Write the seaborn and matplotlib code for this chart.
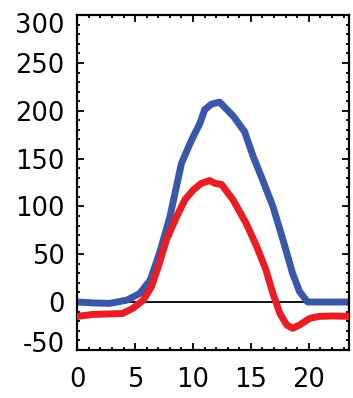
import matplotlib
matplotlib.use("Agg")
import matplotlib.pyplot as plt
import matplotlib.transforms as mtransforms
from matplotlib.ticker import MultipleLocator
import seaborn as sns
import pandas as pd

# Data
blue_x = [0, 1.5, 2.8, 4.3, 5.4, 6.3, 7.1, 8.0, 8.57, 9.0, 9.86, 10.6, 11.0, 11.6, 12.3,
          13.5, 14.46, 15.2, 16.0, 16.9, 17.77, 18.6, 19.2, 19.9, 21.5, 23.5]
blue_y = [0, -1, -1.4, 2, 9, 23, 51, 89, 121, 145, 169, 187, 201, 207, 209,
          194, 178, 152, 128, 100, 65, 30, 11, 0, 0, 0]
red_x = [0, 1.35, 2.6, 3.9, 4.8, 5.7, 6.4, 7.0, 7.7, 8.57, 9.3, 10.0, 10.7, 11.44, 11.9,
         12.45, 13.45, 14.6, 15.5, 16.3, 16.9, 17.5, 18.1, 18.6, 19.2, 20.1, 20.9, 22.1, 23.5]
red_y = [-15, -13, -12.5, -12, -6.6, 2, 16, 37, 65, 89, 107, 117, 124, 127, 124,
         123, 107, 82, 58, 33.5, 9, -12, -24, -27.5, -24, -17, -15, -14.6, -15]
xticks = [0, 5, 10, 15, 20]
yticks = [-50, 0, 50, 100, 150, 200, 250, 300]

sns.set_style("white")
plt.rcParams['font.family'] = ['DejaVu Sans']
plt.rcParams['axes.unicode_minus'] = False

fig = plt.figure(figsize=(3.53, 3.98), dpi=100)
ax = fig.add_axes([0.219, 0.121, 0.7705, 0.841])

ax.axhline(0, color="black", lw=1.3, zorder=1)
sns.lineplot(data=pd.DataFrame({"x": blue_x, "y": blue_y}), x="x", y="y", ax=ax,
             color="#3a58a8", lw=5, zorder=2)
sns.lineplot(data=pd.DataFrame({"x": red_x, "y": red_y}), x="x", y="y", ax=ax,
             color="#ec1c24", lw=5, zorder=3)

ax.set_xlim(0, 23.5)
ax.set_ylim(-50, 300)
ax.set_xticks(xticks)
ax.set_yticks(yticks)
ax.xaxis.set_minor_locator(MultipleLocator(1))
ax.yaxis.set_minor_locator(MultipleLocator(10))
ax.set_xlabel("")
ax.set_ylabel("")
for s in ax.spines.values():
    s.set_visible(True)
    s.set_color("black")
    s.set_linewidth(1.6)
ax.tick_params(which="both", direction="in", top=True, right=True, bottom=True, left=True,
               color="black", width=1.3, labelcolor="black")
ax.tick_params(which="major", length=5)
ax.tick_params(which="minor", length=2.5)
ax.tick_params(axis="x", which="major", labelsize=18.5, pad=12)
ax.tick_params(axis="y", which="major", labelsize=18.5, pad=9)

fig.canvas.draw()
labels = ax.get_yticklabels()
labels[0].set_transform(labels[0].get_transform() +
                        mtransforms.ScaledTranslation(0, 6 / 72, fig.dpi_scale_trans))
labels[-1].set_transform(labels[-1].get_transform() +
                         mtransforms.ScaledTranslation(0, -6 / 72, fig.dpi_scale_trans))

fig.savefig("out.png", dpi=100)
